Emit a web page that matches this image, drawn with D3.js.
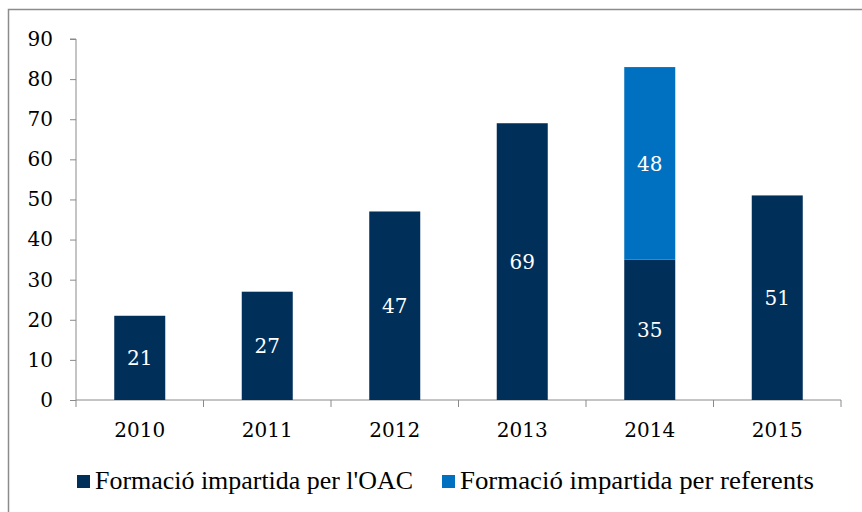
<!DOCTYPE html>
<html lang="ca">
<head>
<meta charset="utf-8">
<script src="https://d3js.org/d3.v7.min.js"></script>
<style>
  body { margin: 0; background: #fff; }
</style>
</head>
<body>
<script>
  // dades
  const years = ["2010", "2011", "2012", "2013", "2014", "2015"];
  const oac = [21, 27, 47, 69, 35, 51];
  const referents = [0, 0, 0, 0, 48, 0];
  const seriesNames = ["Formació impartida per l'OAC", "Formació impartida per referents"];
  const yTicks = [0, 10, 20, 30, 40, 50, 60, 70, 80, 90];

  const width = 862, height = 512;
  const colors = ["#002F5A", "#0070C0"];
  const axisColor = "#8a8a8a";

  const svg = d3.select("body").append("svg")
    .attr("width", width)
    .attr("height", height);

  // marc exterior
  svg.append("path")
    .attr("d", "M8.5," + height + " V9.5 H" + width)
    .attr("fill", "none")
    .attr("stroke", "#8c8c8c")
    .attr("stroke-width", 1.5);

  const x = d3.scaleBand()
    .domain(years)
    .range([76, 841])
    .paddingInner(0.6)
    .paddingOuter(0.3);

  const y = d3.scaleLinear()
    .domain([0, 90])
    .range([400, 39]);

  const rows = years.map(function(yr, i) {
    return { year: yr, oac: oac[i], ref: referents[i] };
  });
  const stacked = d3.stack().keys(["oac", "ref"])(rows);

  // eix Y
  const yAxis = svg.append("g")
    .attr("transform", "translate(76,0)")
    .call(d3.axisLeft(y).tickValues(yTicks).tickSize(6).tickPadding(17).tickFormat(d3.format("d")));
  yAxis.select(".domain").attr("stroke", axisColor).attr("d", "M-6," + y(90) + "H0V" + y(0));
  yAxis.selectAll(".tick line").attr("stroke", axisColor);
  yAxis.selectAll(".tick text")
    .attr("fill", "#000")
    .attr("font-family", "DejaVu Serif")
    .attr("font-size", "20px");

  // eix X
  const xg = svg.append("g");
  xg.append("line")
    .attr("x1", x.range()[0]).attr("x2", x.range()[1])
    .attr("y1", y(0)).attr("y2", y(0))
    .attr("stroke", axisColor);
  xg.selectAll(".sep")
    .data(d3.range(years.length + 1))
    .enter().append("line")
    .attr("x1", function(i) { return x.range()[0] + i * x.step(); })
    .attr("x2", function(i) { return x.range()[0] + i * x.step(); })
    .attr("y1", y(0)).attr("y2", y(0) + 7)
    .attr("stroke", axisColor);
  xg.selectAll(".yl")
    .data(years)
    .enter().append("text")
    .attr("x", function(d) { return x(d) + x.bandwidth() / 2; })
    .attr("y", 437)
    .attr("text-anchor", "middle")
    .attr("font-family", "DejaVu Serif")
    .attr("font-size", "20px")
    .text(function(d) { return d; });

  // barres
  const layers = svg.selectAll(".layer")
    .data(stacked)
    .enter().append("g")
    .attr("fill", function(d, i) { return colors[i]; });

  layers.selectAll("rect")
    .data(function(d) { return d.filter(function(p) { return p[1] - p[0] > 0; }); })
    .enter().append("rect")
    .attr("x", function(d) { return x(d.data.year); })
    .attr("y", function(d) { return y(d[1]); })
    .attr("width", x.bandwidth())
    .attr("height", function(d) { return y(d[0]) - y(d[1]); });

  layers.selectAll("text")
    .data(function(d) { return d.filter(function(p) { return p[1] - p[0] > 0; }); })
    .enter().append("text")
    .attr("x", function(d) { return x(d.data.year) + x.bandwidth() / 2; })
    .attr("y", function(d) { return (y(d[0]) + y(d[1])) / 2; })
    .attr("dy", "0.36em")
    .attr("text-anchor", "middle")
    .attr("fill", "#fff")
    .attr("font-family", "DejaVu Serif")
    .attr("font-size", "20px")
    .text(function(d) { return d[1] - d[0]; });

  // llegenda
  const legendX = [77, 442];
  const legendLen = [318, 354];
  const lg = svg.selectAll(".lg")
    .data(seriesNames)
    .enter().append("g");
  lg.append("rect")
    .attr("x", function(d, i) { return legendX[i]; })
    .attr("y", 475)
    .attr("width", 13)
    .attr("height", 13)
    .attr("fill", function(d, i) { return colors[i]; });
  lg.append("text")
    .attr("x", function(d, i) { return legendX[i] + 18; })
    .attr("y", 489)
    .attr("font-family", "Liberation Serif")
    .attr("font-size", "26px")
    .attr("textLength", function(d, i) { return legendLen[i]; })
    .attr("lengthAdjust", "spacingAndGlyphs")
    .text(function(d) { return d; });
</script>
</body>
</html>
